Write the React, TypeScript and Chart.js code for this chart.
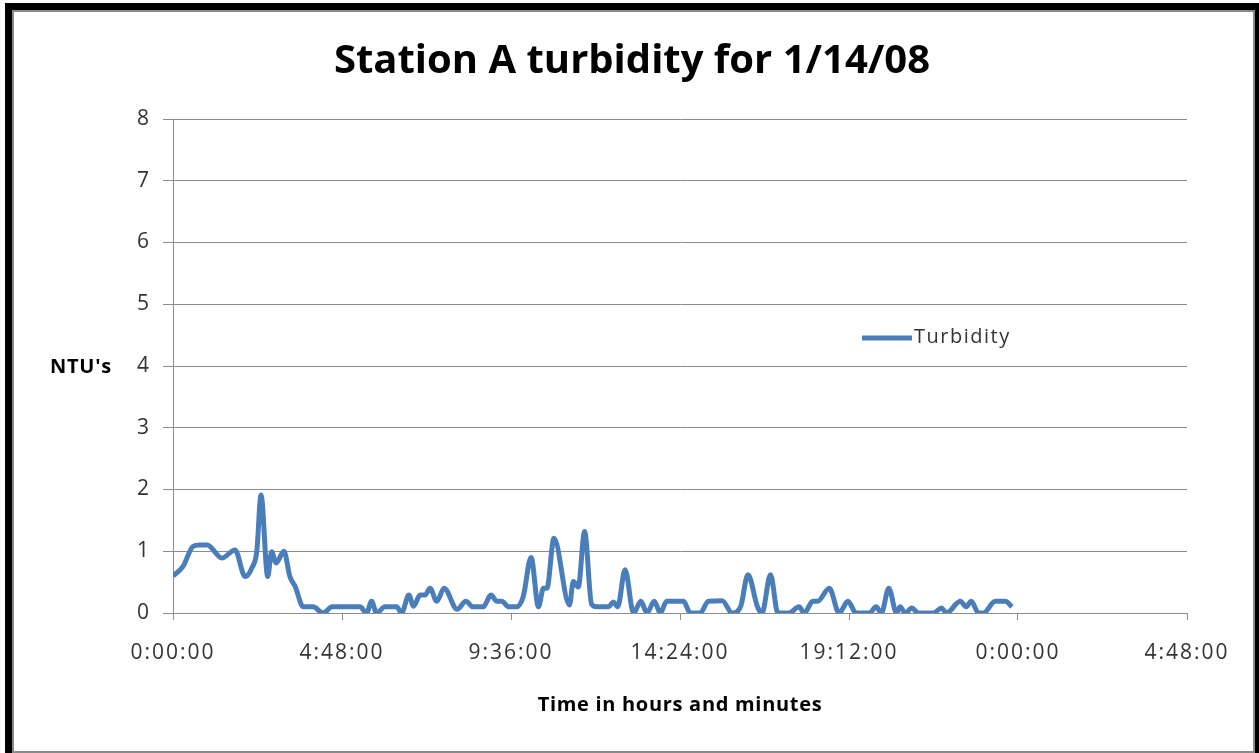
import React, { useEffect, useRef } from "react";
import { Chart, registerables } from "chart.js";

Chart.register(...registerables);

// Time of each reading, in hours since 0:00:00 on 1/14/08
const hours = [
  0, 0.28, 0.57, 0.75, 0.97, 1.39, 1.76, 2.05, 2.24, 2.38,
  2.5, 2.69, 2.8, 2.93, 3.15, 3.32, 3.47, 3.7, 3.98, 4.26,
  4.52, 5.31, 5.5, 5.64, 5.78, 6.02, 6.35, 6.49, 6.7, 6.83,
  7.02, 7.16, 7.3, 7.49, 7.7, 8.07, 8.32, 8.52, 8.81, 9.03,
  9.2, 9.34, 9.53, 9.76, 9.95, 10.17, 10.38, 10.52, 10.62, 10.82,
  11.26, 11.37, 11.51, 11.69, 11.89, 12.04, 12.37, 12.51, 12.63, 12.84,
  13.08, 13.29, 13.46, 13.67, 13.84, 14.02, 14.5, 14.69, 14.97, 15.21,
  15.6, 15.88, 16.12, 16.33, 16.6, 16.73, 16.97, 17.18, 17.5, 17.78,
  17.93, 18.17, 18.31, 18.64, 18.92, 19.17, 19.4, 19.78, 19.97, 20.12,
  20.33, 20.55, 20.65, 20.8, 20.98, 21.17, 21.6, 21.83, 21.97, 22.36,
  22.53, 22.67, 22.88, 23.02, 23.35, 23.64, 23.83,
];

// Turbidity readings (NTU)
const turbidity = [
  0.6, 0.75, 1.08, 1.1, 1.1, 0.89, 1.02, 0.59, 0.73, 1.0,
  1.91, 0.59, 0.99, 0.81, 1.0, 0.59, 0.43, 0.1, 0.1, 0,
  0.1, 0.1, 0, 0.19, 0, 0.1, 0.1, 0, 0.29, 0.11,
  0.29, 0.29, 0.4, 0.19, 0.4, 0.06, 0.19, 0.1, 0.1, 0.29,
  0.19, 0.19, 0.1, 0.1, 0.27, 0.9, 0.1, 0.4, 0.4, 1.21,
  0.13, 0.51, 0.42, 1.32, 0.14, 0.1, 0.1, 0.18, 0.1, 0.7,
  0, 0.19, 0, 0.19, 0, 0.19, 0.19, 0, 0, 0.19,
  0.2, 0, 0.1, 0.62, 0.1, 0, 0.62, 0, 0, 0.1,
  0, 0.19, 0.19, 0.4, 0, 0.19, 0, 0, 0.1, 0,
  0.4, 0, 0.1, 0, 0.08, 0, 0, 0.08, 0, 0.19,
  0.1, 0.19, 0, 0, 0.19, 0.19, 0.1,
];

const seriesName = "Turbidity";
const chartTitle = "Station A turbidity for 1/14/08";
const yAxisTitle = "NTU's";
const xAxisTitle = "Time in hours and minutes";
const xMin = 0;
const xMax = 28.8;
const xStep = 4.8;
const yMin = 0;
const yMax = 8;

const LINE_COLOR = "#4a7ebb";
const GRID_COLOR = "#8c8c8c";
const TEXT_COLOR = "#333333";
const FONT = "'Open Sans', 'DejaVu Sans', sans-serif";

function fmtTime(v: number): string {
  const mins = Math.round(v * 60);
  const h = Math.floor(mins / 60) % 24;
  const m = mins % 60;
  return `${h}:${String(m).padStart(2, "0")}:00`;
}

const textPlugin = {
  id: "customText",
  beforeDraw(chart: any) {
    // wider tracking for tick labels, like the stretched original
    chart.ctx.letterSpacing = "2px";
  },
  afterDraw(chart: any) {
    const ctx = chart.ctx;
    const area = chart.chartArea;
    ctx.save();
    ctx.fillStyle = "#000";
    ctx.textAlign = "center";
    ctx.textBaseline = "middle";
    // Title
    ctx.letterSpacing = "0px";
    ctx.font = `bold 40px ${FONT}`;
    ctx.fillText(chartTitle, 632, 62);
    // Y axis title (horizontal)
    ctx.letterSpacing = "0.8px";
    ctx.font = `bold 20px ${FONT}`;
    ctx.fillText(yAxisTitle, 81, 367);
    // X axis title
    ctx.letterSpacing = "0.7px";
    ctx.font = `bold 20px ${FONT}`;
    ctx.fillText(xAxisTitle, (area.left + area.right) / 2, 705);
    // Legend
    ctx.strokeStyle = LINE_COLOR;
    ctx.lineWidth = 5;
    ctx.beginPath();
    ctx.moveTo(862, 338);
    ctx.lineTo(912, 338);
    ctx.stroke();
    ctx.fillStyle = TEXT_COLOR;
    ctx.textAlign = "left";
    ctx.letterSpacing = "1.5px";
    ctx.font = `20px ${FONT}`;
    ctx.fillText(seriesName, 914, 337);
    ctx.restore();
    ctx.letterSpacing = "0px";
  },
};

export default function App() {
  const ref = useRef<HTMLCanvasElement | null>(null);

  useEffect(() => {
    document.body.style.margin = "0";
    const canvas = ref.current;
    if (!canvas) return;
    const points = hours.map((h, i) => ({ x: h, y: turbidity[i] }));
    const chart = new Chart(canvas, {
      type: "line",
      data: {
        datasets: [
          {
            label: seriesName,
            data: points,
            borderColor: LINE_COLOR,
            backgroundColor: LINE_COLOR,
            borderWidth: 5,
            pointRadius: 0,
            cubicInterpolationMode: "monotone",
            fill: false,
          },
        ],
      },
      options: {
        animation: false,
        responsive: false,
        maintainAspectRatio: false,
        devicePixelRatio: 1,
        layout: { padding: { left: 0, top: 119, right: 72, bottom: 0 } },
        plugins: {
          legend: { display: false },
          title: { display: false },
          tooltip: { enabled: false },
        },
        scales: {
          x: {
            type: "linear",
            min: xMin,
            max: xMax,
            afterFit: (s: any) => {
              s.height = 140;
            },
            afterBuildTicks: (s: any) => {
              const t = [];
              for (let v = xMin; v <= xMax + 1e-6; v += xStep) t.push({ value: v });
              s.ticks = t;
            },
            ticks: {
              stepSize: xStep,
              color: TEXT_COLOR,
              font: { family: FONT, size: 21 },
              padding: 20,
              maxRotation: 0,
              autoSkip: false,
              callback: (v: any) => fmtTime(Number(v)),
            },
            grid: {
              drawOnChartArea: false,
              drawTicks: true,
              tickLength: 7,
              color: GRID_COLOR,
            },
            border: { color: GRID_COLOR },
          },
          y: {
            min: yMin,
            max: yMax,
            afterFit: (s: any) => {
              s.width = 173;
            },
            ticks: {
              stepSize: 1,
              color: TEXT_COLOR,
              font: { family: FONT, size: 21 },
              padding: 12,
            },
            grid: {
              color: GRID_COLOR,
              tickLength: 10,
            },
            border: { color: GRID_COLOR },
          },
        },
      },
      plugins: [textPlugin],
    });
    return () => chart.destroy();
  }, []);

  return (
    <div style={{ position: "relative", width: 1259, height: 753, background: "#fff", overflow: "hidden" }}>
      <div style={{ position: "absolute", left: 5, top: 3, width: 1254, height: 750, background: "#000" }} />
      <div
        style={{
          position: "absolute",
          left: 12,
          top: 10,
          width: 1239,
          height: 739,
          background: "#fff",
          border: "2px solid #8a8a8a",
        }}
      />
      <canvas ref={ref} width={1259} height={753} style={{ position: "absolute", left: 0, top: 0, width: 1259, height: 753 }} />
    </div>
  );
}
